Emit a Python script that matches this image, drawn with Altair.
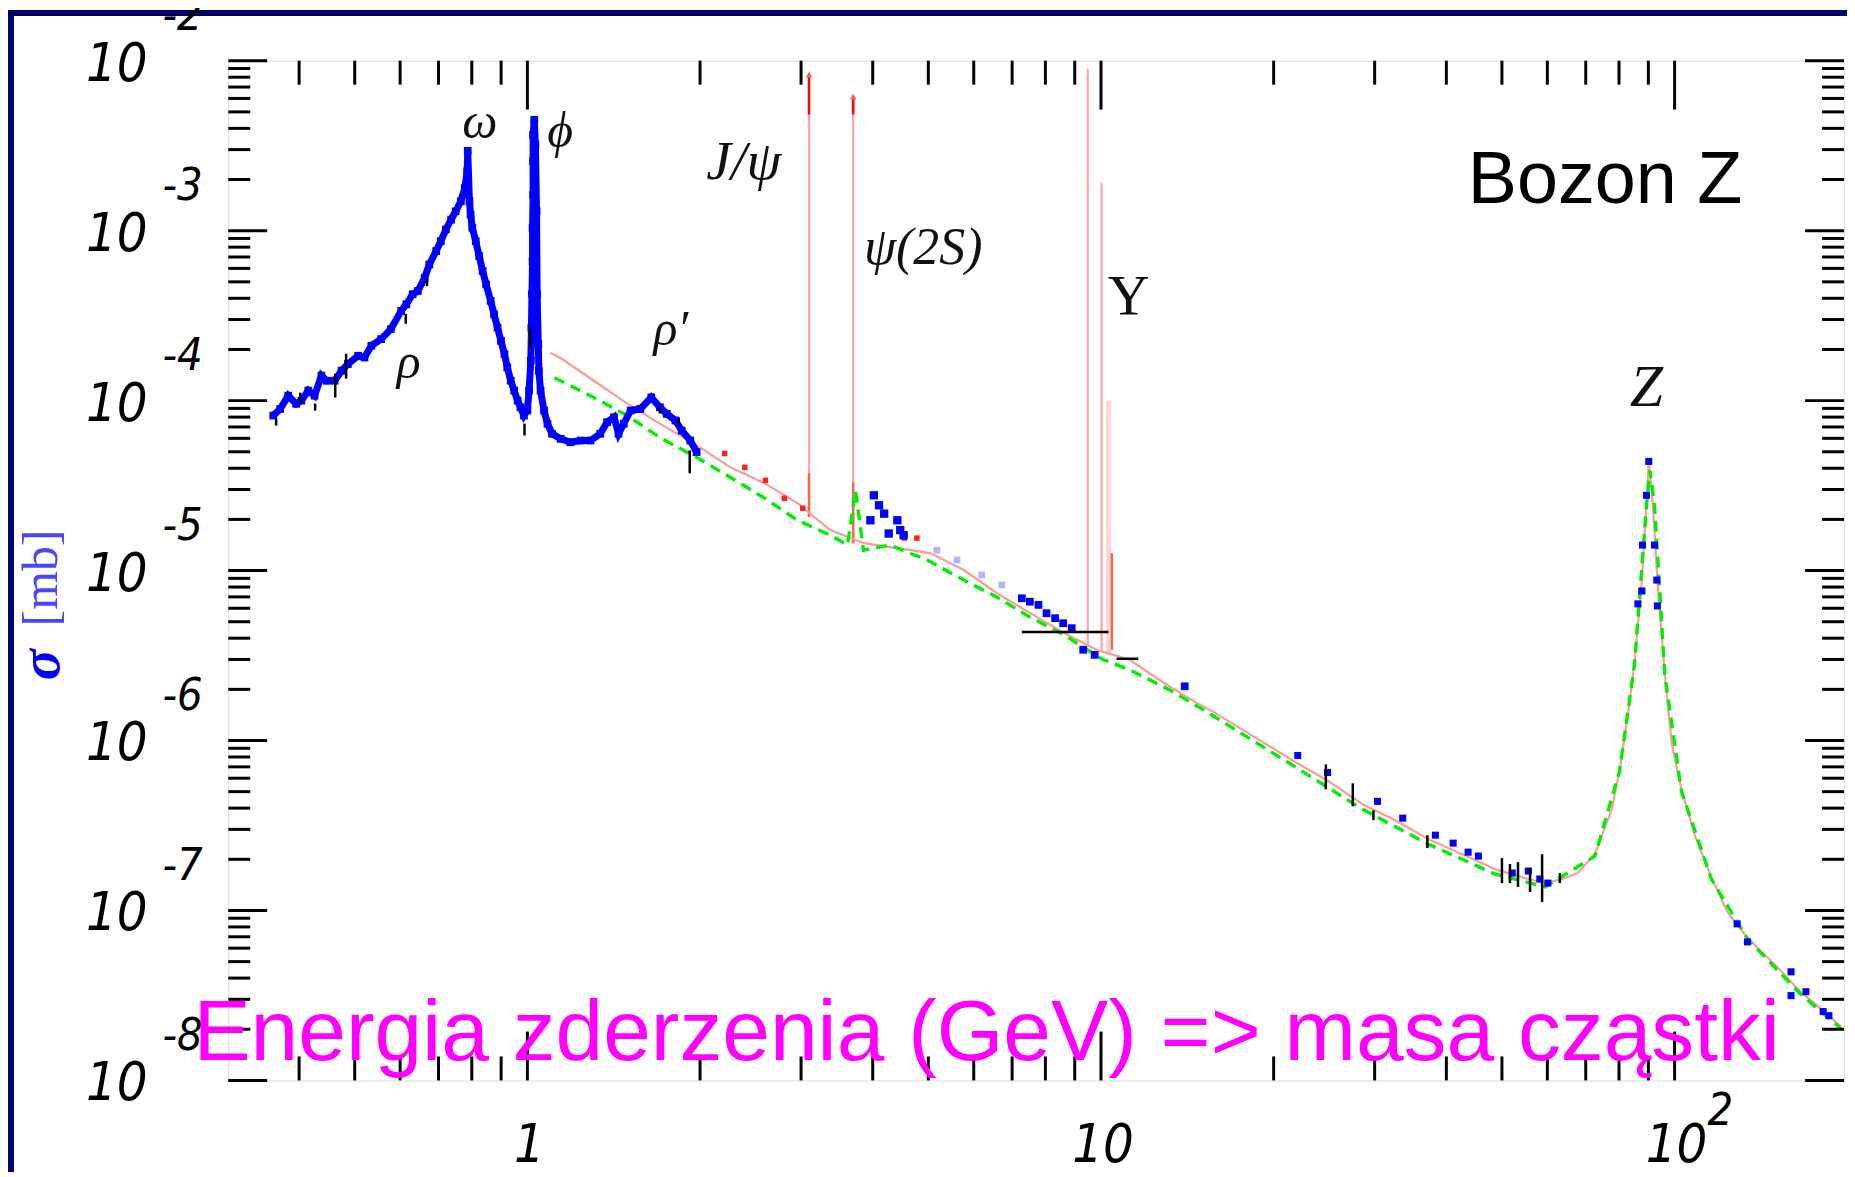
import altair as alt
import pandas as pd

# ---------------- values ----------------
# all series as log10(E / GeV) and log10(sigma / mb)

# blue measured points, low-mass region (rho, omega, phi, rho')
blue_low_log10E = [-0.443, -0.431, -0.417, -0.403, -0.394, -0.382, -0.371, -0.359, -0.350, -0.336,
                   -0.324, -0.313, -0.295, -0.284, -0.272, -0.255, -0.238, -0.220, -0.211, -0.200,
                   -0.191, -0.179, -0.171, -0.159, -0.151, -0.142, -0.133, -0.125, -0.116, -0.109,
                   -0.105, -0.104, -0.101, -0.099, -0.096, -0.090, -0.084, -0.078, -0.072, -0.064,
                   -0.058, -0.052, -0.046, -0.040, -0.035, -0.029, -0.023, -0.017, -0.012, -0.006,
                   0.000, 0.003, 0.006, 0.007, 0.008, 0.009, 0.009, 0.010, 0.010, 0.010,
                   0.012, 0.014, 0.016, 0.017, 0.019, 0.020, 0.023, 0.029, 0.035, 0.043,
                   0.058, 0.075, 0.093, 0.110, 0.127, 0.139, 0.151, 0.159, 0.168, 0.180,
                   0.197, 0.216, 0.231, 0.243, 0.258, 0.269, 0.284, 0.295]
blue_low_log10S = [-4.088, -4.049, -3.971, -4.019, -4.000, -3.941, -3.971, -3.853, -3.883, -3.883,
                   -3.824, -3.785, -3.736, -3.746, -3.677, -3.638, -3.579, -3.472, -3.433, -3.374,
                   -3.355, -3.277, -3.199, -3.120, -3.062, -2.993, -2.935, -2.886, -2.827, -2.749,
                   -2.651, -2.530, -2.827, -2.905, -2.983, -3.062, -3.150, -3.237, -3.316, -3.413,
                   -3.492, -3.570, -3.648, -3.726, -3.805, -3.883, -3.941, -4.000, -4.039, -4.088,
                   -4.058, -3.941, -3.765, -3.570, -3.374, -3.179, -2.983, -2.788, -2.592, -2.436,
                   -2.348, -2.494, -2.886, -3.374, -3.667, -3.824, -3.941, -4.058, -4.136, -4.195,
                   -4.225, -4.245, -4.235, -4.235, -4.195, -4.127, -4.098, -4.195, -4.136, -4.058,
                   -4.049, -3.981, -4.039, -4.078, -4.117, -4.176, -4.235, -4.303]

# blue points near psi(2S)
blue_psi_log10E = [0.598, 0.604, 0.613, 0.622, 0.630, 0.645, 0.650, 0.656]
blue_psi_log10S = [-4.704, -4.557, -4.616, -4.665, -4.782, -4.704, -4.762, -4.792]

# blue points along the continuum, 7-15 GeV
blue_mid_log10E = [0.862, 0.876, 0.891, 0.905, 0.920, 0.934, 0.949, 0.969, 0.989, 1.146]
blue_mid_log10S = [-5.163, -5.183, -5.202, -5.251, -5.280, -5.310, -5.339, -5.466, -5.496, -5.681]

# faint blue points, 5-7 GeV
blue_faint_log10E = [0.714, 0.749, 0.792, 0.827]
blue_faint_log10S = [-4.880, -4.938, -5.026, -5.085]

# blue points, high mass and Z
blue_high_log10E = [1.343, 1.395, 1.482, 1.526, 1.583, 1.614, 1.640, 1.658, 1.717, 1.745, 1.765, 1.779,
                    1.936, 1.943, 1.944, 1.951, 1.955, 1.965, 1.969, 1.970,
                    2.109, 2.127, 2.203, 2.203, 2.229, 2.259, 2.269]
blue_high_log10S = [-6.088, -6.188, -6.358, -6.457, -6.557, -6.604, -6.657, -6.680, -6.780, -6.768, -6.815, -6.839,
                    -5.196, -5.120, -4.850, -4.557, -4.358, -4.850, -5.056, -5.208,
                    -7.079, -7.185, -7.361, -7.501, -7.478, -7.595, -7.619]

# red (pink) theory curve
pink_log10E = [0.040, 0.057, 0.116, 0.174, 0.231, 0.290, 0.354, 0.414, 0.471, 0.528,
               0.587, 0.702, 0.761, 0.818, 0.876, 0.935, 0.992, 1.050, 1.109, 1.166,
               1.195, 1.340, 1.397, 1.456, 1.513, 1.571, 1.630, 1.687, 1.745, 1.774,
               1.804, 1.831, 1.861, 1.891, 1.904, 1.918, 1.930, 1.943, 1.951, 1.955,
               1.962, 1.970, 1.983, 1.995, 2.012, 2.035, 2.064, 2.092, 2.127, 2.182,
               2.219, 2.255, 2.290]
pink_log10S = [-3.718, -3.748, -3.883, -4.018, -4.135, -4.252, -4.393, -4.487, -4.604, -4.762,
               -4.839, -4.897, -4.997, -5.132, -5.249, -5.366, -5.466, -5.525, -5.660, -5.777,
               -5.830, -6.129, -6.240, -6.375, -6.469, -6.581, -6.669, -6.757, -6.815, -6.839,
               -6.815, -6.780, -6.669, -6.399, -6.176, -5.859, -5.548, -5.056, -4.604, -4.358,
               -4.604, -5.056, -5.613, -6.018, -6.287, -6.557, -6.804, -7.009, -7.161, -7.343,
               -7.478, -7.578, -7.683]

# green dashed theory curve
green_log10E = [0.047, 0.082, 0.116, 0.174, 0.231, 0.295, 0.354, 0.414, 0.471, 0.528,
                0.558, 0.572, 0.586, 0.632, 0.697, 0.761, 0.818, 0.876, 0.935, 1.004,
                1.050, 1.119, 1.178, 1.340, 1.456, 1.571, 1.687, 1.774, 1.861, 1.904,
                1.930, 1.951, 1.957, 1.965, 1.983, 2.012, 2.064, 2.127, 2.219, 2.290]
green_log10S = [-3.865, -3.924, -3.982, -4.088, -4.217, -4.334, -4.452, -4.575, -4.704, -4.792,
                -4.850, -4.528, -4.880, -4.850, -4.938, -5.056, -5.155, -5.273, -5.378, -5.525,
                -5.584, -5.701, -5.818, -6.158, -6.405, -6.610, -6.786, -6.862, -6.681, -6.182,
                -5.554, -4.616, -4.411, -4.616, -5.619, -6.299, -6.815, -7.167, -7.490, -7.695]

# red points
red_log10E = [0.344, 0.379, 0.415, 0.448, 0.480, 0.657, 0.679]
red_log10S = [-4.311, -4.393, -4.469, -4.575, -4.633, -4.809, -4.809]

# narrow resonance spikes: J/psi, psi(2S), Upsilon(1S), Upsilon(2S)
spike_log10E = [0.491, 0.568, 0.977, 1.001]
spike_log10S_lo = [-4.645, -4.839, -5.437, -5.478]
spike_log10S_hi = [-2.082, -2.211, -2.047, -2.721]
# Upsilon(3S), faint
spike3_log10E = [1.013]
spike3_log10S_lo = [-5.496]
spike3_log10S_hi = [-4.000]
# bright arrow parts at the top of J/psi and psi(2S)
arrow_log10E = [0.491, 0.568]
arrow_log10S_lo = [-2.317, -2.317]
arrow_log10S_hi = [-2.082, -2.211]
# darker lower parts of spikes
dark_log10E = [0.491, 0.568, 1.019]
dark_log10S_lo = [-4.686, -4.839, -5.466]
dark_log10S_hi = [-4.428, -4.481, -4.897]

# black vertical error bars
err_log10E = [-0.438, -0.396, -0.370, -0.335, -0.316, -0.212, -0.175, -0.005, 0.005, 0.231, 0.264, 0.283,
              1.392, 1.439, 1.475, 1.569, 1.699, 1.713, 1.727, 1.748, 1.769, 1.800]
err_log10S_lo = [-4.147, -4.018, -4.059, -3.982, -3.871, -3.548, -3.326, -4.205, -3.689, -4.076, -4.147, -4.428,
                 -6.287, -6.387, -6.469, -6.633, -6.839, -6.839, -6.862, -6.891, -6.950, -6.839]
err_log10S_hi = [-4.106, -3.953, -4.018, -3.842, -3.724, -3.490, -3.284, -4.135, -3.572, -4.041, -4.100, -4.293,
                 -6.141, -6.252, -6.411, -6.557, -6.692, -6.727, -6.716, -6.751, -6.669, -6.780]

# black horizontal bars (bin widths)
hbar_log10E_lo = [0.862, 1.027]
hbar_log10E_hi = [1.013, 1.065]
hbar_log10S = [-5.361, -5.519]

# particle labels and their anchor points
label_text = ["ω", "ϕ", "ρ", "ρ′", "J/ψ", "ψ(2S)", "Υ", "Z"]
label_log10E = [-0.083, 0.057, -0.207, 0.250, 0.377, 0.690, 1.048, 1.951]
label_log10S = [-2.364, -2.422, -3.777, -3.584, -2.598, -3.103, -3.396, -3.924]

# axis ticks
x_major = [1, 10, 100]
x_major_text = ["1", "10", "10"]
x_minor = [0.4, 0.5, 0.6, 0.7, 0.8, 0.9, 2, 3, 4, 5, 6, 7, 8, 9,
           20, 30, 40, 50, 60, 70, 80, 90]
y_major = [1e-2, 1e-3, 1e-4, 1e-5, 1e-6, 1e-7, 1e-8]
y_major_exp = ["-2", "-3", "-4", "-5", "-6", "-7", "-8"]
y_minor = [k * 10.0 ** e for e in range(-8, -2) for k in range(2, 10)]

# ---------------- chart ----------------
W, H = 1621, 1023
NUM_FONT = "Liberation Sans Narrow, DejaVu Sans Condensed, Liberation Sans"
SERIF = "Liberation Serif, DejaVu Serif"
SANS = "Liberation Sans, Arial"

xs = alt.Scale(type="log", domain=[0.301, 197.4], nice=False)
ys = alt.Scale(type="log", domain=[1e-8, 1e-2], nice=False)


def XE(f="E"):
    return alt.X(f"{f}:Q", scale=xs, axis=None)


def YS(f="S"):
    return alt.Y(f"{f}:Q", scale=ys, axis=None)


def pts(logE, logS):
    return pd.DataFrame({"E": [10.0 ** v for v in logE],
                         "S": [10.0 ** v for v in logS],
                         "i": list(range(len(logE)))})


def rng(logE, lo, hi):
    return pd.DataFrame({"E": [10.0 ** v for v in logE],
                         "lo": [10.0 ** v for v in lo],
                         "hi": [10.0 ** v for v in hi]})


layers = []

# navy slide edge
one = pd.DataFrame({"a": [0]})
layers.append(alt.Chart(one).mark_rect(color="#000070").encode(
    x=alt.value(-221), x2=alt.value(-215), y=alt.value(-51), y2=alt.value(H + 92)))
layers.append(alt.Chart(one).mark_rect(color="#000066").encode(
    x=alt.value(-221), x2=alt.value(W + 3), y=alt.value(-51), y2=alt.value(-45)))

# spikes
layers.append(alt.Chart(rng(spike3_log10E, spike3_log10S_lo, spike3_log10S_hi)).mark_rule(
    color="#ffd4d4", strokeWidth=5).encode(x=XE(), y=YS("lo"), y2="hi:Q"))
layers.append(alt.Chart(rng(spike_log10E, spike_log10S_lo, spike_log10S_hi)).mark_rule(
    color="#ffa3a3", strokeWidth=2.2).encode(x=XE(), y=YS("lo"), y2="hi:Q"))
layers.append(alt.Chart(rng(dark_log10E, dark_log10S_lo, dark_log10S_hi)).mark_rule(
    color="#ee6a4a", strokeWidth=2.5).encode(x=XE(), y=YS("lo"), y2="hi:Q"))
layers.append(alt.Chart(rng(arrow_log10E, arrow_log10S_lo, arrow_log10S_hi)).mark_rule(
    color="#ff0000", strokeWidth=2.5).encode(x=XE(), y=YS("lo"), y2="hi:Q"))
layers.append(alt.Chart(rng(arrow_log10E, arrow_log10S_lo, arrow_log10S_hi)).mark_point(
    shape="triangle-up", filled=True, color="#ff6060", size=45, opacity=1).encode(x=XE(), y=YS("hi")))

# theory curves
layers.append(alt.Chart(pts(pink_log10E, pink_log10S)).mark_line(
    color="#ff9a9a", strokeWidth=2.2).encode(x=XE(), y=YS(), order="i:Q"))
layers.append(alt.Chart(pts(green_log10E, green_log10S)).mark_line(
    color="#00ee00", strokeWidth=3.4, strokeDash=[11, 7]).encode(x=XE(), y=YS(), order="i:Q"))
layers.append(alt.Chart(pts(red_log10E, red_log10S)).mark_square(
    color="#ff2020", size=30, opacity=1).encode(x=XE(), y=YS()))

# blue data
layers.append(alt.Chart(pts(blue_low_log10E, blue_low_log10S)).mark_line(
    color="#0000ff", strokeWidth=7).encode(x=XE(), y=YS(), order="i:Q"))
for le, ls, c, s in [(blue_low_log10E, blue_low_log10S, "#0000ff", 60),
                     (blue_psi_log10E, blue_psi_log10S, "#0000ff", 70),
                     (blue_mid_log10E, blue_mid_log10S, "#0000ff", 60),
                     (blue_high_log10E, blue_high_log10S, "#0000ff", 50),
                     (blue_faint_log10E, blue_faint_log10S, "#b4b4ff", 45)]:
    layers.append(alt.Chart(pts(le, ls)).mark_square(
        color=c, size=s, opacity=1).encode(x=XE(), y=YS()))

# error bars
layers.append(alt.Chart(rng(err_log10E, err_log10S_lo, err_log10S_hi)).mark_rule(
    color="black", strokeWidth=2.5).encode(x=XE(), y=YS("lo"), y2="hi:Q"))
hb = pd.DataFrame({"lo": [10.0 ** v for v in hbar_log10E_lo],
                   "hi": [10.0 ** v for v in hbar_log10E_hi],
                   "S": [10.0 ** v for v in hbar_log10S]})
layers.append(alt.Chart(hb).mark_rule(color="black", strokeWidth=2.5).encode(
    x=XE("lo"), x2="hi:Q", y=YS()))

# ticks (inside, on all four sides)
def xt(vals, L):
    df = pd.DataFrame({"v": vals})
    a = alt.Chart(df).mark_rule(color="black", strokeWidth=3).encode(
        x=XE("v"), y=alt.value(H), y2=alt.value(H - L))
    b = alt.Chart(df).mark_rule(color="black", strokeWidth=3).encode(
        x=XE("v"), y=alt.value(0), y2=alt.value(L))
    return [a, b]


def yt(vals, L):
    df = pd.DataFrame({"v": vals})
    a = alt.Chart(df).mark_rule(color="black", strokeWidth=3).encode(
        y=YS("v"), x=alt.value(0), x2=alt.value(L))
    b = alt.Chart(df).mark_rule(color="black", strokeWidth=3).encode(
        y=YS("v"), x=alt.value(W), x2=alt.value(W - L))
    return [a, b]


layers += xt(x_minor, 24) + xt(x_major, 49) + yt(y_minor, 22) + yt(y_major, 39)

# tick labels
ylab = pd.DataFrame({"v": y_major, "b": ["10"] * len(y_major), "e": y_major_exp})
layers.append(alt.Chart(ylab).mark_text(
    font=NUM_FONT, fontSize=54, fontStyle="italic", align="right", baseline="alphabetic",
    dy=20, color="black").encode(y=YS("v"), x=alt.value(-81), text="b:N"))
layers.append(alt.Chart(ylab).mark_text(
    font=NUM_FONT, fontSize=45, fontStyle="italic", align="left", baseline="alphabetic",
    dy=-31, color="black").encode(y=YS("v"), x=alt.value(-66), text="e:N"))
xlab = pd.DataFrame({"v": x_major, "t": x_major_text})
layers.append(alt.Chart(xlab).mark_text(
    font=NUM_FONT, fontSize=54, fontStyle="italic", align="center", baseline="alphabetic",
    dx=2, color="black").encode(x=XE("v"), y=alt.value(H + 82), text="t:N"))
xexp = pd.DataFrame({"v": [100], "t": ["2"]})
layers.append(alt.Chart(xexp).mark_text(
    font=NUM_FONT, fontSize=45, fontStyle="italic", align="left", baseline="alphabetic",
    dx=33, color="black").encode(x=XE("v"), y=alt.value(H + 45), text="t:N"))

# axis title sigma [mb]
layers.append(alt.Chart(pd.DataFrame({"t": ["σ"]})).mark_text(
    font=SERIF, fontSize=58, fontWeight="bold", fontStyle="italic", angle=270,
    align="center", baseline="alphabetic", color="#0000ff").encode(
    x=alt.value(-170), y=alt.value(606), text="t:N"))
layers.append(alt.Chart(pd.DataFrame({"t": ["[mb]"]})).mark_text(
    font=SERIF, fontSize=50, angle=270, align="center", baseline="alphabetic",
    color="#4646ff").encode(x=alt.value(-172), y=alt.value(519), text="t:N"))

# particle labels
lab_sizes = [50, 50, 50, 50, 56, 52, 58, 60]
lab_styles = ["italic", "italic", "italic", "italic", "italic", "italic", "normal", "italic"]
for t, le, ls, fs, st in zip(label_text, label_log10E, label_log10S, lab_sizes, lab_styles):
    d = pd.DataFrame({"E": [10.0 ** le], "S": [10.0 ** ls], "t": [t]})
    layers.append(alt.Chart(d).mark_text(
        font=SERIF, fontSize=fs, fontStyle=st, align="center", baseline="middle",
        color="#111111").encode(x=XE(), y=YS(), text="t:N"))

# slide overlay texts
layers.append(alt.Chart(pd.DataFrame({"t": ["Bozon Z"]})).mark_text(
    font=SANS, fontSize=74, align="right", baseline="alphabetic", color="black").encode(
    x=alt.value(1519), y=alt.value(143), text="t:N"))
layers.append(alt.Chart(pd.DataFrame({"t": ["Energia zderzenia (GeV) => masa cząstki"]})).mark_text(
    font=SANS, fontSize=86, align="left", baseline="alphabetic", color="#ff00ff").encode(
    x=alt.value(-35), y=alt.value(1003), text="t:N"))

chart = alt.layer(*layers).properties(
    width=W, height=H,
    padding={"left": 221, "top": 51, "right": 3, "bottom": 92},
    autosize=alt.AutoSizeParams(type="none"),
).configure_view(stroke="black", strokeWidth=3).configure(background="white")

chart.save("out.html", embed_options={"renderer": "svg", "actions": False})
